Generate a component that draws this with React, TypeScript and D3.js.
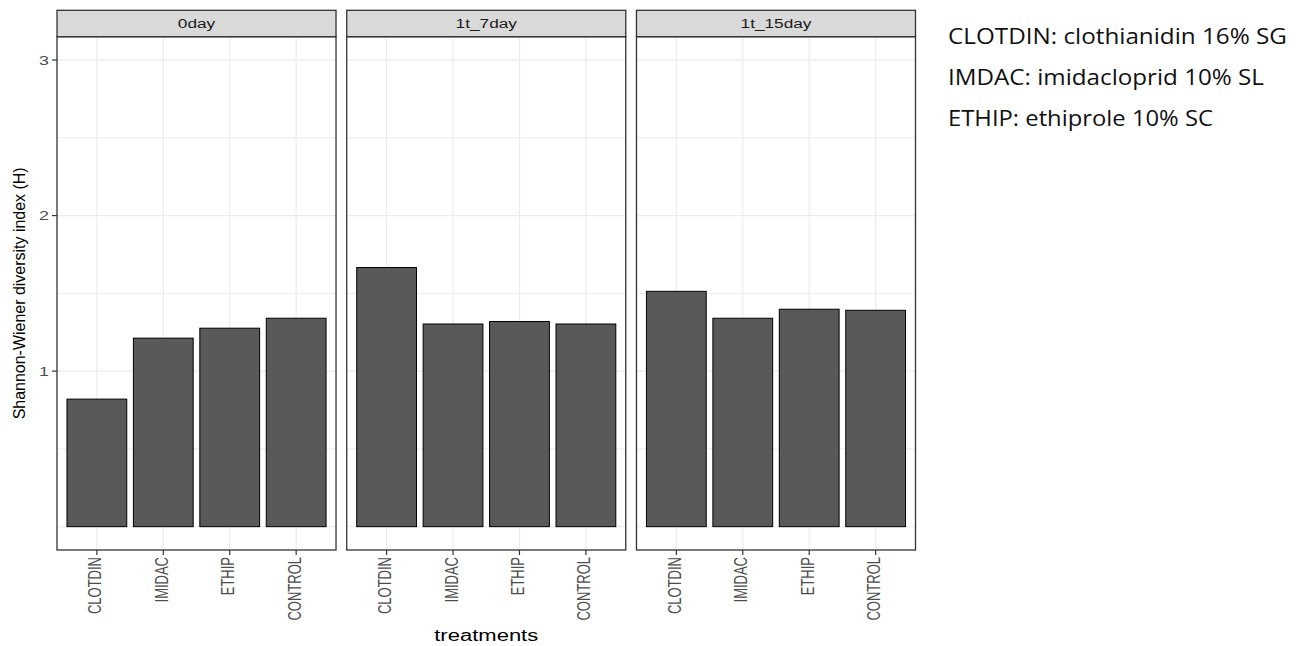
import React from "react";
import * as d3 from "d3";

const facets = ["0day", "1t_7day", "1t_15day"];
const treatments = ["CLOTDIN", "IMIDAC", "ETHIP", "CONTROL"];
const values0day = [0.82, 1.212, 1.276, 1.34];
const values7day = [1.666, 1.303, 1.319, 1.303];
const values15day = [1.513, 1.34, 1.398, 1.391];
const yTicks = [1, 2, 3];
const yMinor = [0, 0.5, 1.5, 2.5];
const notes = [
  "CLOTDIN: clothianidin 16% SG",
  "IMDAC: imidacloprid 10% SL",
  "ETHIP: ethiprole 10% SC",
];
const noteWidths = [339, 316, 265];
const yTitle = "Shannon-Wiener diversity index (H)";
const xTitle = "treatments";

const seriesByFacet = [values0day, values7day, values15day];

const W = 1304;
const H = 646;
const stripTop = 10.3;
const panelTop = 36.7;
const panelBottom = 550;
const plotLeft = 57;
const plotRight = 915.5;
const font = "'Liberation Sans', Arial, sans-serif";
const sx = 1.38;

export default function App() {
  const facetScale = d3
    .scaleBand<string>()
    .domain(facets)
    .range([plotLeft, plotRight])
    .paddingInner(0.037)
    .paddingOuter(0);
  const pw = facetScale.bandwidth();
  const y = d3.scaleLinear().domain([-0.15, 3.15]).range([panelBottom, panelTop]);
  const x = d3
    .scaleBand<string>()
    .domain(treatments)
    .range([0, pw])
    .paddingInner(0.1)
    .paddingOuter(0.15);

  return (
    <svg
      width={W}
      height={H}
      style={{ position: "absolute", left: 0, top: 0, background: "#fff" }}
      fontFamily={font}
    >
      <rect x={0} y={0} width={W} height={H} fill="#fff" />
      {facets.map((f, fi) => {
        const px = facetScale(f)!;
        const vals = seriesByFacet[fi];
        return (
          <g key={f}>
            <rect x={px} y={panelTop} width={pw} height={panelBottom - panelTop} fill="#fff" />
            {yMinor.map((t) => (
              <line key={"mn" + t} x1={px} x2={px + pw} y1={y(t)} y2={y(t)} stroke="#EBEBEB" strokeWidth={1} />
            ))}
            {yTicks.map((t) => (
              <line key={"mj" + t} x1={px} x2={px + pw} y1={y(t)} y2={y(t)} stroke="#EBEBEB" strokeWidth={1.2} />
            ))}
            {treatments.map((c) => {
              const cx = px + x(c)! + x.bandwidth() / 2;
              return (
                <line key={"vg" + c} x1={cx} x2={cx} y1={panelTop} y2={panelBottom} stroke="#EBEBEB" strokeWidth={1.2} />
              );
            })}
            {treatments.map((c, i) => (
              <rect
                key={"b" + c}
                x={px + x(c)!}
                y={y(vals[i])}
                width={x.bandwidth()}
                height={y(0) - y(vals[i])}
                fill="#595959"
                stroke="#000"
                strokeWidth={1}
              />
            ))}
            <rect
              x={px}
              y={panelTop}
              width={pw}
              height={panelBottom - panelTop}
              fill="none"
              stroke="#333333"
              strokeWidth={1.3}
            />
            <rect
              x={px}
              y={stripTop}
              width={pw}
              height={panelTop - stripTop}
              fill="#D9D9D9"
              stroke="#333333"
              strokeWidth={1.3}
            />
            <text
              x={0}
              y={0}
              transform={`translate(${px + pw / 2},${(stripTop + panelTop) / 2 + 4.5}) scale(${sx},1)`}
              textAnchor="middle"
              fontSize={12.5}
              fill="#1A1A1A"
            >
              {f}
            </text>
            {treatments.map((c) => {
              const cx = px + x(c)! + x.bandwidth() / 2;
              return (
                <g key={"xt" + c}>
                  <line x1={cx} x2={cx} y1={panelBottom} y2={panelBottom + 5} stroke="#333333" strokeWidth={1.2} />
                  <text
                    transform={`translate(${cx + 4.5},${panelBottom + 7}) scale(${sx},1) rotate(-90)`}
                    textAnchor="end"
                    fontSize={13}
                    fill="#4D4D4D"
                  >
                    {c}
                  </text>
                </g>
              );
            })}
          </g>
        );
      })}
      {yTicks.map((t) => (
        <g key={"yt" + t}>
          <line x1={plotLeft - 5} x2={plotLeft} y1={y(t)} y2={y(t)} stroke="#333333" strokeWidth={1.2} />
          <text
            transform={`translate(${plotLeft - 8},${y(t) + 4.5}) scale(${sx},1)`}
            textAnchor="end"
            fontSize={13}
            fill="#4D4D4D"
          >
            {t}
          </text>
        </g>
      ))}
      <text
        transform={`translate(${25},${(panelTop + panelBottom) / 2}) rotate(-90)`}
        textAnchor="middle"
        fontSize={16}
        fill="#000"
        textLength={252}
        lengthAdjust="spacingAndGlyphs"
      >
        {yTitle}
      </text>
      <text
        x={(plotLeft + plotRight) / 2}
        y={641}
        textAnchor="middle"
        fontSize={16}
        fill="#000"
        textLength={104}
        lengthAdjust="spacingAndGlyphs"
      >
        {xTitle}
      </text>
      {notes.map((n, i) => (
        <text
          key={n}
          x={948}
          y={43.5 + i * 41}
          fontSize={21}
          fontFamily="'Open Sans', 'Noto Sans', sans-serif"
          fill="#111"
          textLength={noteWidths[i]}
          lengthAdjust="spacingAndGlyphs"
        >
          {n}
        </text>
      ))}
    </svg>
  );
}
